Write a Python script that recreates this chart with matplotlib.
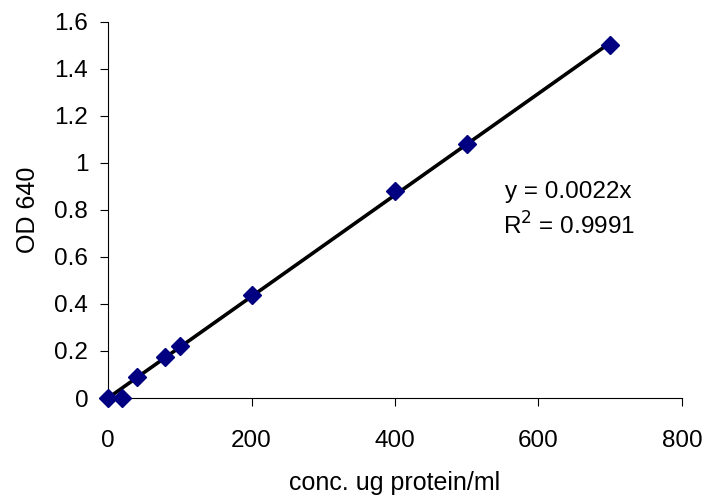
import matplotlib.pyplot as plt
import numpy as np

plt.rcParams['font.family'] = ['Liberation Sans', 'DejaVu Sans']

## Standard curve data
conc = np.array([0, 20, 40, 80, 100, 200, 400, 500, 700])
od = np.array([0, 0, 0.09, 0.175, 0.22, 0.44, 0.88, 1.08, 1.5])

## Linear fit through origin
slope = np.sum(conc * od) / np.sum(conc ** 2)
xfit = np.array([0, conc.max()])

fig = plt.figure(figsize=(7.07, 4.99), dpi=100)
ax = fig.add_axes([0.1528, 0.2024, 0.8118, 0.7536])

ax.plot(xfit, slope * xfit, color='black', lw=2.6, zorder=2)
ax.plot(conc, od, 'D', color='#000080', markersize=9, zorder=3, clip_on=False)

ax.set_xlim(0, 800)
ax.set_ylim(0, 1.6)
ax.set_xticks(np.arange(0, 801, 200))
ax.set_yticks(np.arange(0, 1.61, 0.2))
ax.set_yticklabels(['0', '0.2', '0.4', '0.6', '0.8', '1', '1.2', '1.4', '1.6'])
ax.spines['top'].set_visible(False)
ax.spines['right'].set_visible(False)
ax.tick_params(direction='out', length=5.8, labelsize=17.5)
ax.tick_params(axis='x', pad=17)
ax.tick_params(axis='y', pad=8.5)

ax.set_xlabel('conc. ug protein/ml', fontsize=18, labelpad=14)
ax.set_ylabel('OD 640', fontsize=18, labelpad=10)

ax.text(642, 0.875, 'y = 0.0022x', fontsize=17.5, ha='center', va='center')
ax.text(642, 0.73, 'R$^2$ = 0.9991', fontsize=17.5, ha='center', va='center')

plt.savefig('out.png')
